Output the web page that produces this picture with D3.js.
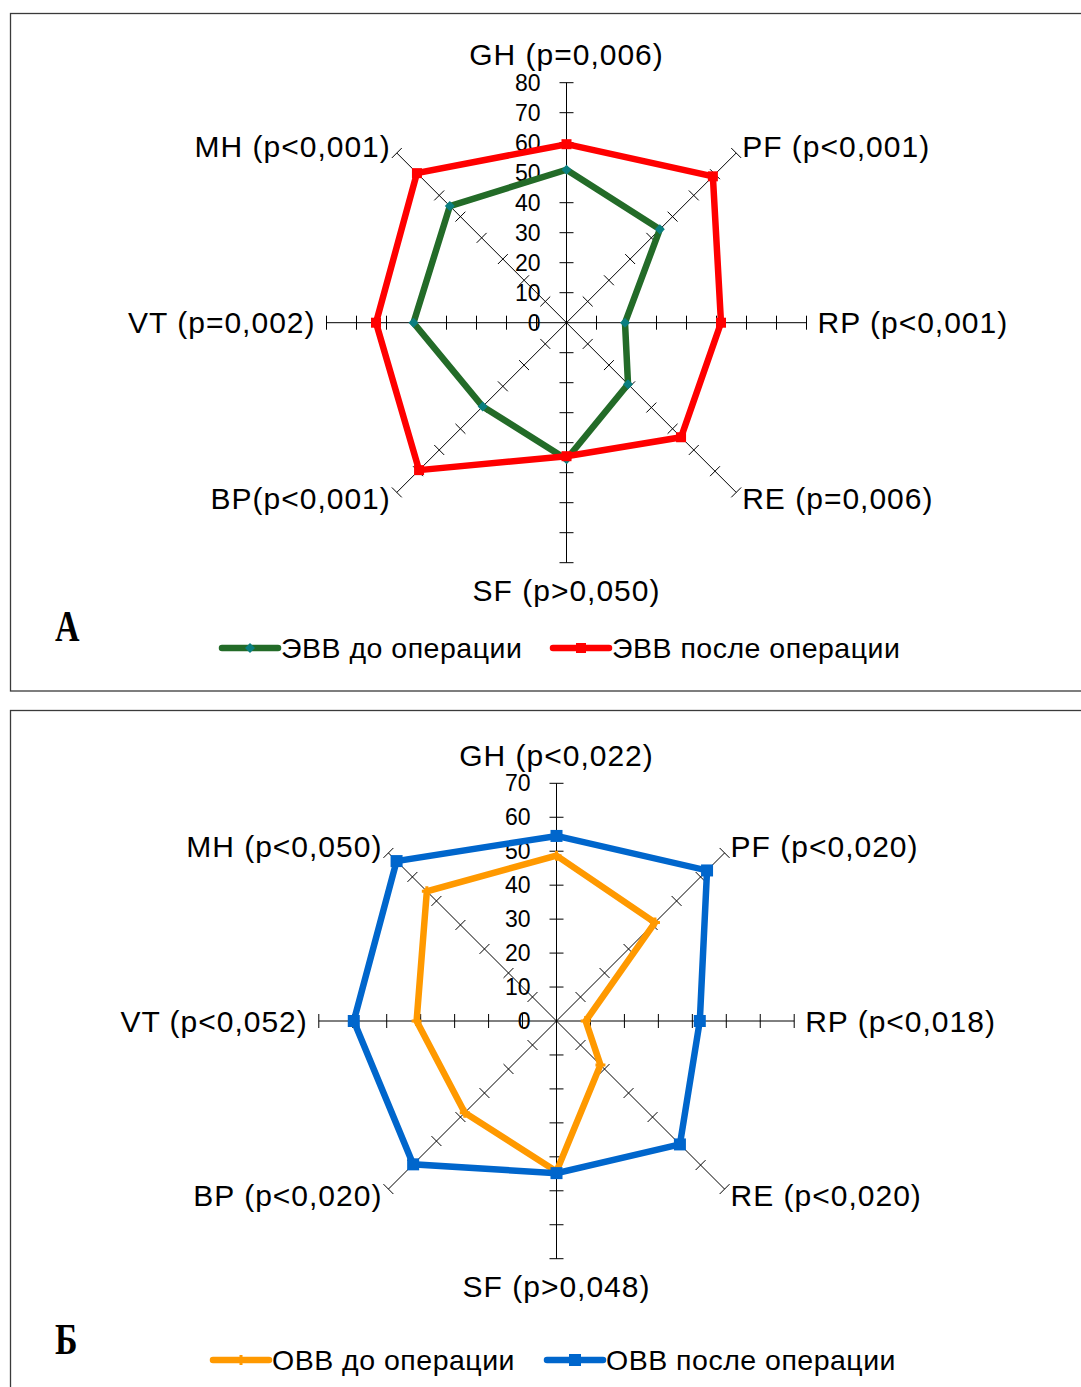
<!DOCTYPE html>
<html>
<head>
<meta charset="utf-8">
<script src="https://cdn.jsdelivr.net/npm/d3@7"></script>
<style>
  html, body { margin: 0; padding: 0; background: #fff; }
  svg { display: block; }
  text { font-family: "Liberation Sans", Arial, sans-serif; fill: #000; }
</style>
</head>
<body>
<svg id="chart" width="1081" height="1387"></svg>
<script>
// ---------- DATA ----------
const categories = ["GH", "PF", "RP", "RE", "SF", "BP", "VT", "MH"];

const labelsA = ["GH (p=0,006)", "PF (p<0,001)", "RP (p<0,001)", "RE (p=0,006)",
                 "SF (p>0,050)", "BP(p<0,001)", "VT (p=0,002)", "MH (p<0,001)"];
const evvBefore = [51, 44, 19.5, 29, 45.5, 39.5, 51, 55];
const evvAfter  = [59.5, 69, 51.5, 54, 44.5, 69.5, 63.5, 70.5];
const ticksA = [0, 10, 20, 30, 40, 50, 60, 70, 80];
const seriesNamesA = ["ЭВВ до операции", "ЭВВ после операции"];

const labelsB = ["GH (p<0,022)", "PF (p<0,020)", "RP (p<0,018)", "RE (p<0,020)",
                 "SF (p>0,048)", "BP (p<0,020)", "VT (p<0,052)", "MH (p<0,050)"];
const ovvBefore = [48.7, 41, 8.6, 18.3, 44.3, 38.2, 41.2, 54];
const ovvAfter  = [54.5, 62.7, 42.2, 51.4, 44.8, 59.7, 59.7, 66.6];
const ticksB = [0, 10, 20, 30, 40, 50, 60, 70];
const seriesNamesB = ["ОВВ до операции", "ОВВ после операции"];

// ---------- DRAW ----------
const svg = d3.select("#chart");

function panel(cfg) {
  const g = svg.append("g");
  // frame
  g.append("rect")
    .attr("x", cfg.frame[0]).attr("y", cfg.frame[1])
    .attr("width", cfg.frame[2]).attr("height", cfg.frame[3])
    .attr("fill", "none").attr("stroke", "#3a3a3a").attr("stroke-width", 1.3);

  const maxV = d3.max(cfg.ticks);
  const r = d3.scaleLinear().domain([0, maxV]).range([0, cfg.radius]);
  const angle = d3.scalePoint().domain(categories).range([0, 2 * Math.PI * 7 / 8]);
  const cx = cfg.cx, cy = cfg.cy;
  const pt = (cat, v) => {
    const a = angle(cat);
    return [cx + r(v) * Math.sin(a), cy - r(v) * Math.cos(a)];
  };

  const axes = g.append("g");
  categories.forEach(cat => {
    const a = angle(cat);
    const e = pt(cat, maxV);
    axes.append("line")
      .attr("x1", cx).attr("y1", cy).attr("x2", e[0]).attr("y2", e[1])
      .attr("stroke", "#000").attr("stroke-width", 1);
    // perpendicular tick marks
    const px = Math.cos(a), py = Math.sin(a);
    cfg.ticks.filter(t => t > 0).forEach(t => {
      const p = pt(cat, t);
      axes.append("line")
        .attr("x1", p[0] - px * 7).attr("y1", p[1] - py * 7)
        .attr("x2", p[0] + px * 7).attr("y2", p[1] + py * 7)
        .attr("stroke", "#000").attr("stroke-width", 1);
    });
  });

  // tick labels on the GH axis
  g.append("g").selectAll("text").data(cfg.ticks).join("text")
    .attr("x", cx - 26)
    .attr("y", d => cy - r(d))
    .attr("text-anchor", "end")
    .attr("dominant-baseline", "central")
    .style("font-size", "23px")
    .text(d => d);

  // category labels
  g.append("g").selectAll("text").data(categories).join("text")
    .each(function(cat, i) {
      const a = angle(cat);
      const s = Math.sin(a), c = Math.cos(a);
      const e = pt(cat, maxV);
      let x = e[0], y = e[1];
      let anchor = "middle";
      if (Math.abs(s) < 0.1) {
        y = e[1] - c * 28;
      } else if (Math.abs(c) < 0.1) {
        x = e[0] + s * 11;
        anchor = s > 0 ? "start" : "end";
      } else {
        x = e[0] + (s > 0 ? 6 : -6);
        y = e[1] + (c > 0 ? -6 : 6);
        anchor = s > 0 ? "start" : "end";
      }
      d3.select(this)
        .attr("x", x).attr("y", y)
        .attr("text-anchor", anchor)
        .attr("dominant-baseline", "central")
        .style("font-size", "30px")
        .style("letter-spacing", "1px")
        .text(cfg.labels[i]);
    });

  // series
  const line = d3.lineRadial()
    .angle((d, i) => angle(categories[i]))
    .radius(d => r(d))
    .curve(d3.curveLinearClosed);

  cfg.series.forEach(s => {
    g.append("path")
      .attr("transform", `translate(${cx},${cy})`)
      .attr("d", line(s.values))
      .attr("fill", "none")
      .attr("stroke", s.color)
      .attr("stroke-width", s.width)
      .attr("stroke-linejoin", "miter");
    const mk = g.append("g");
    s.values.forEach((v, i) => {
      const p = pt(categories[i], v);
      drawMarker(mk, s, p[0], p[1]);
    });
  });

  // panel letter
  g.append("text")
    .attr("x", cfg.letterPos[0]).attr("y", cfg.letterPos[1])
    .attr("transform", `translate(${cfg.letterPos[0]},${cfg.letterPos[1]}) scale(0.85,1.1) translate(${-cfg.letterPos[0]},${-cfg.letterPos[1]})`)
    .style("font-family", "'Liberation Serif', 'Times New Roman', serif")
    .style("font-weight", "bold")
    .style("font-size", "40px")
    .text(cfg.letter);

  // legend
  cfg.legend.forEach((L, k) => {
    const s = cfg.series[k];
    g.append("line")
      .attr("x1", L.x).attr("x2", L.x + 56)
      .attr("y1", L.y).attr("y2", L.y)
      .attr("stroke", s.color).attr("stroke-width", s.width)
      .attr("stroke-linecap", "round");
    drawMarker(g, s, L.x + 28, L.y);
    g.append("text")
      .attr("x", L.x + 59).attr("y", L.y)
      .attr("dominant-baseline", "central")
      .style("font-size", "28.5px")
      .style("letter-spacing", "0.5px")
      .text(s.name);
  });
}

function drawMarker(sel, s, x, y) {
  if (s.marker === "diamond") {
    const h = 5;
    sel.append("path")
      .attr("d", `M${x},${y - h}L${x + h},${y}L${x},${y + h}L${x - h},${y}Z`)
      .attr("fill", s.markerColor);
  } else if (s.marker === "square") {
    const h = s.markerSize / 2;
    sel.append("rect")
      .attr("x", x - h).attr("y", y - h)
      .attr("width", 2 * h).attr("height", 2 * h)
      .attr("fill", s.markerColor);
  } else if (s.marker === "plus") {
    const h = 5;
    sel.append("path")
      .attr("d", `M${x - h},${y}L${x + h},${y}M${x},${y - h}L${x},${y + h}`)
      .attr("stroke", s.markerColor).attr("stroke-width", 3);
  }
}

panel({
  frame: [10.5, 13.5, 1100, 677.5],
  cx: 566.5, cy: 322.7, radius: 240,
  ticks: ticksA, labels: labelsA,
  letter: "A", letterPos: [55, 641],
  series: [
    { name: seriesNamesA[0], values: evvBefore, color: "#236b28", width: 6.5,
      marker: "diamond", markerColor: "#0a7f80" },
    { name: seriesNamesA[1], values: evvAfter, color: "#ff0000", width: 6.5,
      marker: "square", markerSize: 10, markerColor: "#ff0000" }
  ],
  legend: [{ x: 222, y: 648 }, { x: 553, y: 648 }]
});

panel({
  frame: [10.5, 710.5, 1100, 700],
  cx: 556.5, cy: 1021, radius: 237.7,
  ticks: ticksB, labels: labelsB,
  letter: "Б", letterPos: [55, 1354],
  series: [
    { name: seriesNamesB[0], values: ovvBefore, color: "#ff9900", width: 6.5,
      marker: "plus", markerColor: "#ff9900" },
    { name: seriesNamesB[1], values: ovvAfter, color: "#0066cc", width: 6.5,
      marker: "square", markerSize: 12, markerColor: "#0066cc" }
  ],
  legend: [{ x: 213, y: 1360 }, { x: 547, y: 1360 }]
});
</script>
</body>
</html>
